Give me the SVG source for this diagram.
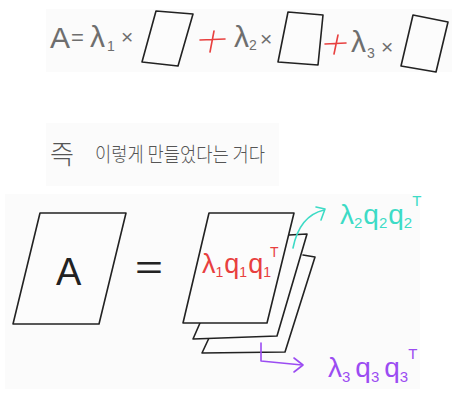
<svg xmlns="http://www.w3.org/2000/svg" width="462" height="402" viewBox="0 0 462 402">
<defs>
<style>
.panel{fill:#fbfbfb;stroke:none}
.sheet{fill:#fcfcfc;stroke:#222;stroke-width:1.6;stroke-linejoin:round;stroke-linecap:round}
.gray{font-family:"Liberation Sans","Noto Sans CJK KR",sans-serif;fill:#6e6e6e}
.kr{font-family:"Noto Sans CJK KR","Noto Sans",sans-serif;fill:#555;font-weight:300}
.plus{fill:none;stroke:#e8403f;stroke-width:1.6;stroke-linecap:round}
.red{font-family:"Liberation Sans",sans-serif;fill:#e8403f}
.teal{font-family:"Liberation Sans",sans-serif;fill:#3ddbc6}
.purple{font-family:"Liberation Sans",sans-serif;fill:#9b4cf2}
.tealline{fill:none;stroke:#3ddbc6;stroke-width:1.6;stroke-linecap:round;stroke-linejoin:round}
.purpleline{fill:none;stroke:#9b4cf2;stroke-width:1.6;stroke-linecap:round;stroke-linejoin:round}
</style>
</defs>
<rect width="462" height="402" fill="#ffffff"/>
<rect class="panel" x="46" y="9" width="406" height="63"/>
<rect class="panel" x="46" y="123" width="233" height="63"/>
<rect class="panel" x="5" y="194" width="415" height="195"/>

<g id="equation-top">
<text class="gray" x="50" y="48" font-size="30">A</text>
<text class="gray" x="71" y="45" font-size="22">=</text>
<text class="gray" x="90" y="47" font-size="30">λ<tspan font-size="14" dy="4" dx="2">1</tspan></text>
<text class="gray" x="121" y="44" font-size="21">×</text>
<polygon class="sheet" points="156,11 193,14 178,66 142,62"/>
<path class="plus" d="M200,40 L225,39 M214,31 L210,52"/>
<text class="gray" x="234" y="47" font-size="30">λ<tspan font-size="14" dy="3">2</tspan></text>
<text class="gray" x="260" y="46" font-size="21">×</text>
<polygon class="sheet" points="288,12 323,15 318,65 278,62"/>
<path class="plus" d="M325,44 L346,43 M338,35 L334,54"/>
<text class="gray" x="351" y="52" font-size="30">λ<tspan font-size="14" dy="6" dx="1">3</tspan></text>
<text class="gray" x="381" y="54" font-size="21">×</text>
<polygon class="sheet" points="413,15 448,22 436,72 401,66"/>
</g>

<g id="caption">
<text class="kr" x="50" y="164" font-size="26">즉</text>
<text class="kr" x="95" y="162" font-size="20" textLength="170" lengthAdjust="spacingAndGlyphs">이렇게 만들었다는 거다</text>
</g>

<g id="matrix-A">
<polygon class="sheet" points="40,213 126,213 99,324 13,324"/>
<text x="56" y="285" font-family="Liberation Sans,sans-serif" font-size="38" fill="#222">A</text>
</g>

<g id="equals">
<text x="135" y="279" font-family="Liberation Sans,sans-serif" font-size="34" fill="#222" textLength="28" lengthAdjust="spacingAndGlyphs">=</text>
</g>

<g id="sheet-3">
<path class="sheet" d="M303,255 L315,257 L285,352 L202,353 L209,338"/>
</g>
<g id="sheet-2">
<path class="sheet" d="M289,235 L307,234 L277,336 L193,339 L200,323"/>
</g>
<g id="sheet-1">
<polygon class="sheet" points="209,213 294,213 267,323 183,323"/>
<text class="red" x="202" y="273" font-size="27">λ<tspan font-size="14" dy="4">1</tspan><tspan dy="-4" dx="1">q</tspan><tspan font-size="14" dy="4">1</tspan><tspan dy="-4" dx="1">q</tspan><tspan font-size="14" dy="4">1</tspan><tspan font-size="14" dy="-20" dx="-1">T</tspan></text>
</g>

<g id="connectors">
<path class="tealline" d="M293,248 C297,228 307,214 324,210"/>
<path class="tealline" d="M316,207 L325,209 L321,220"/>
<path class="purpleline" d="M261,343 L261,361 L302,365"/>
<path class="purpleline" d="M294,358 L303,365 L294,372"/>
</g>

<g id="label-2">
<text class="teal" x="340" y="224" font-size="28">λ<tspan font-size="15" dy="4">2</tspan><tspan dy="-4" dx="1">q</tspan><tspan font-size="15" dy="4">2</tspan><tspan dy="-4" dx="1">q</tspan><tspan font-size="15" dy="4">2</tspan><tspan font-size="15" dy="-22">T</tspan></text>
</g>
<g id="label-3">
<text class="purple" x="328" y="377" font-size="28">λ<tspan font-size="15" dy="5">3</tspan><tspan dy="-5" dx="5">q</tspan><tspan font-size="15" dy="5">3</tspan><tspan dy="-5" dx="5">q</tspan><tspan font-size="15" dy="5">3</tspan><tspan font-size="15" dy="-23">T</tspan></text>
</g>
</svg>
